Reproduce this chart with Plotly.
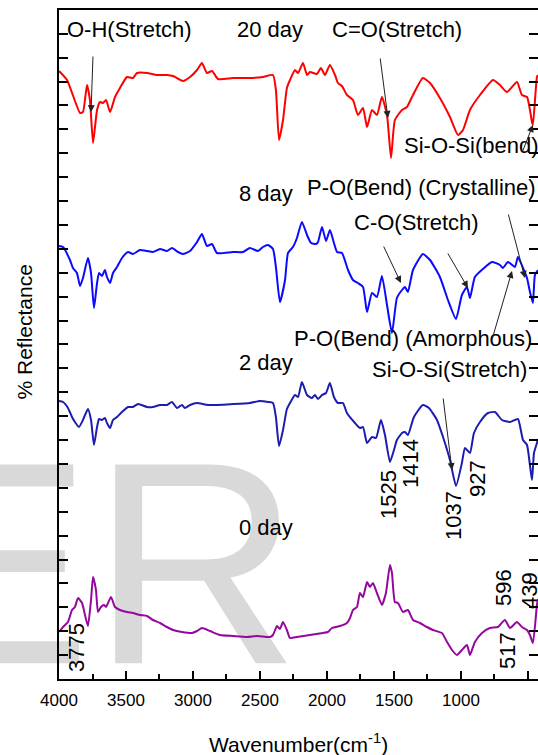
import plotly.graph_objects as go

# ---------------- data ----------------
wn_20day = [4000, 3940, 3843, 3821, 3791, 3769, 3746, 3716, 3694, 3672, 3649, 3619, 3582, 3545, 3493,
            3448, 3418, 3343, 3269, 3194, 3149, 3075, 3022, 2970, 2933, 2896, 2858, 2813, 2701, 2575,
            2478, 2403, 2381, 2358, 2328, 2299, 2276, 2239, 2216, 2179, 2149, 2127, 2075, 2045, 2015,
            1978, 1940, 1918, 1888, 1851, 1806, 1769, 1731, 1701, 1664, 1627, 1590, 1552, 1522, 1493,
            1440, 1403, 1358, 1284, 1231, 1157, 1082, 1022, 985, 933, 858, 761, 709, 657, 582, 545,
            507, 470, 463, 433, 425]
refl_20day = [608, 599, 566, 567, 594, 579, 536, 569, 577, 576, 579, 567, 582, 591, 602,
              601, 606, 606, 604, 604, 603, 598, 602, 609, 616, 606, 608, 600, 601, 601,
              602, 604, 589, 539, 559, 591, 599, 609, 606, 616, 604, 607, 605, 611, 604,
              614, 604, 596, 593, 584, 579, 564, 571, 552, 569, 564, 582, 564, 521, 559,
              569, 572, 584, 601, 596, 581, 562, 544, 549, 569, 584, 599, 594, 587, 597, 584,
              582, 557, 554, 602, 604]

wn_8day = [4000, 3970, 3918, 3896, 3866, 3843, 3821, 3784, 3761, 3739, 3716, 3701, 3679, 3657, 3642,
           3619, 3597, 3567, 3530, 3485, 3448, 3396, 3343, 3299, 3246, 3194, 3157, 3112, 3075, 3022,
           2970, 2933, 2896, 2858, 2821, 2701, 2627, 2575, 2515, 2478, 2440, 2403, 2381, 2351, 2313,
           2291, 2254, 2224, 2187, 2149, 2119, 2082, 2067, 2037, 2007, 1978, 1948, 1925, 1888, 1843,
           1806, 1769, 1731, 1701, 1664, 1627, 1590, 1552, 1515, 1478, 1440, 1418, 1396, 1358, 1284,
           1231, 1157, 1097, 1037, 993, 955, 933, 896, 836, 769, 709, 687, 649, 597, 575, 537, 507,
           485, 463, 448, 425]
refl_8day = [433, 432, 419, 411, 406, 393, 401, 421, 406, 371, 396, 406, 403, 409, 402,
             396, 406, 412, 421, 427, 425, 429, 428, 427, 430, 428, 431, 427, 425, 428,
             437, 445, 433, 435, 426, 427, 427, 431, 428, 432, 434, 430, 412, 377, 399,
             426, 432, 441, 457, 444, 436, 435, 437, 452, 438, 449, 436, 427, 426, 409,
             399, 396, 392, 367, 386, 382, 403, 374, 346, 381, 389, 392, 387, 409, 425,
             419, 402, 379, 360, 384, 392, 381, 402, 410, 417, 414, 411, 417, 412, 422, 411, 401,
             387, 376, 404, 409]

wn_2day = [4000, 3970, 3933, 3903, 3881, 3851, 3821, 3784, 3761, 3739, 3716, 3701, 3679, 3657, 3642,
           3619, 3597, 3567, 3530, 3485, 3448, 3410, 3343, 3299, 3246, 3194, 3157, 3119, 3082, 3060,
           3022, 2970, 2888, 2701, 2575, 2500, 2440, 2403, 2381, 2358, 2328, 2299, 2276, 2239, 2216,
           2187, 2149, 2112, 2090, 2067, 2037, 2007, 1978, 1948, 1918, 1881, 1851, 1791, 1754, 1731,
           1701, 1664, 1634, 1597, 1567, 1530, 1500, 1478, 1440, 1418, 1396, 1351, 1284, 1239, 1179,
           1134, 1082, 1037, 993, 970, 933, 903, 858, 799, 746, 694, 634, 575, 537, 507, 470, 455,
           433, 425]
refl_2day = [278, 277, 271, 262, 257, 252, 259, 270, 259, 234, 252, 260, 259, 261, 256,
             251, 259, 262, 267, 272, 272, 275, 272, 272, 274, 274, 277, 271, 274, 271,
             274, 276, 274, 275, 276, 278, 277, 276, 262, 233, 249, 270, 276, 284, 282,
             297, 284, 281, 284, 280, 284, 286, 296, 282, 276, 276, 266, 256, 251, 252,
             236, 242, 241, 259, 244, 217, 229, 239, 246, 247, 244, 262, 274, 271, 259,
             242, 219, 193, 216, 231, 226, 246, 257, 266, 267, 259, 257, 260, 239, 234, 199, 226,
             236, 240]

wn_0day = [4000, 3970, 3933, 3903, 3881, 3858, 3828, 3806, 3784, 3761, 3746, 3724, 3709, 3687, 3664,
           3649, 3612, 3582, 3545, 3493, 3448, 3396, 3343, 3299, 3246, 3194, 3149, 3082, 3007, 2970,
           2933, 2873, 2799, 2701, 2597, 2522, 2425, 2403, 2373, 2351, 2328, 2299, 2276, 2224, 2127,
           2030, 1993, 1963, 1903, 1851, 1828, 1806, 1776, 1754, 1731, 1701, 1679, 1657, 1627, 1590,
           1560, 1530, 1515, 1493, 1470, 1433, 1396, 1358, 1306, 1254, 1209, 1142, 1104, 1067, 1030,
           993, 955, 933, 896, 843, 784, 724, 672, 634, 582, 545, 507, 485, 463, 433, 425]
refl_0day = [47, 52, 57, 69, 72, 81, 76, 64, 53, 79, 102, 89, 67, 72, 74,
             72, 82, 72, 69, 67, 66, 64, 63, 59, 56, 52, 49, 47, 46, 48,
             51, 48, 44, 43, 42, 43, 42, 44, 53, 50, 57, 49, 41, 42, 44,
             46, 47, 51, 53, 56, 61, 69, 72, 86, 82, 97, 92, 96, 86, 74,
             86, 114, 106, 77, 76, 67, 69, 59, 56, 52, 49, 46, 37, 29, 24,
             29, 34, 24, 37, 46, 51, 52, 59, 51, 57, 52, 49, 44, 36, 74, 80]

series_names = ["20 day", "8 day", "2 day", "0 day"]
series_colors = ["#FF0000", "#0A0AFF", "#1C1CB0", "#94089E"]

x_ticks = [4000, 3500, 3000, 2500, 2000, 1500, 1000, 500]

# text labels: (text, wavenumber, y, xanchor, size, angle)
labels = [
    ("O-H(Stretch)", 3474, 650, "center", 22, 0),
    ("20 day", 2425, 650, "center", 22, 0),
    ("C=O(Stretch)", 1474, 650, "center", 22, 0),
    ("Si-O-Si(bend)", 1440, 534, "left", 22, 0),
    ("8 day", 2672, 486, "left", 22, 0),
    ("P-O(Bend) (Crystalline)", 2164, 492, "left", 22, 0),
    ("C-O(Stretch)", 1813, 457, "left", 22, 0),
    ("P-O(Bend) (Amorphous)", 2261, 341, "left", 22, 0),
    ("2 day", 2672, 317, "left", 22, 0),
    ("Si-O-Si(Stretch)", 1679, 310, "left", 22, 0),
    ("0 day", 2672, 152, "left", 22, 0),
    ("1525", 1545, 185, "center", 22, -90),
    ("1414", 1381, 216, "center", 22, -90),
    ("1037", 1060, 164, "center", 22, -90),
    ("927", 881, 201, "center", 22, -90),
    ("596", 687, 92, "center", 22, -90),
    ("439", 493, 89, "center", 22, -90),
    ("517", 657, 29, "center", 22, -90),
    ("3775", 3873, 31, "center", 22, -90),
]

# arrows: (tail wn, tail y, tip wn, tip y)
arrows = [
    (3746, 624, 3761, 567),
    (1604, 622, 1545, 561),
    (545, 526, 463, 554),
    (649, 466, 522, 401),
    (1582, 434, 1448, 396),
    (1104, 427, 948, 391),
    (769, 339, 619, 408),
    (1134, 282, 1067, 209),
]

FONT = "Liberation Sans, Arial, sans-serif"

fig = go.Figure()

# watermark behind the curves
fig.add_trace(go.Scatter(x=[3698], y=[88], mode="text", text=["ER"],
                         textfont=dict(size=289, color="#D9D9D9", family=FONT),
                         textposition="middle center", cliponaxis=False,
                         hoverinfo="skip", showlegend=False))

for name, wn, refl, col in zip(series_names,
                               [wn_20day, wn_8day, wn_2day, wn_0day],
                               [refl_20day, refl_8day, refl_2day, refl_0day],
                               series_colors):
    fig.add_trace(go.Scatter(x=wn, y=refl, mode="lines", name=name,
                             line=dict(color=col, width=2, shape="spline", smoothing=0.5),
                             showlegend=False))

# dummy trace for right-side tick axis
fig.add_trace(go.Scatter(x=[None], y=[None], yaxis="y2", showlegend=False, hoverinfo="skip"))

annos = []
for txt, xw, yv, xa, sz, ang in labels:
    annos.append(dict(text=txt, x=xw, y=yv, xref="x", yref="y", showarrow=False,
                      xanchor=xa, yanchor="middle", textangle=ang,
                      font=dict(size=sz, color="black", family=FONT)))
for tx, ty, hx, hy in arrows:
    annos.append(dict(text="", x=hx, y=hy, ax=tx, ay=ty, xref="x", yref="y",
                      axref="x", ayref="y", showarrow=True, arrowhead=2, arrowsize=1.4,
                      arrowwidth=1, arrowcolor="#222222", standoff=0, startstandoff=0))

annos.append(dict(text="% Reflectance", x=0, y=0.5, xref="paper", yref="paper",
                  xanchor="center", yanchor="middle", xshift=-35, yshift=12, textangle=-90,
                  showarrow=False, font=dict(size=21, color="black", family=FONT)))
annos.append(dict(text="Wavenumber(cm<sup>-1</sup>)", x=0.5, y=0, xref="paper", yref="paper",
                  xanchor="center", yanchor="middle", yshift=-64,
                  showarrow=False, font=dict(size=21, color="black", family=FONT)))

fig.update_layout(
    width=538, height=755,
    margin=dict(l=59, r=0, t=10, b=76),
    paper_bgcolor="white", plot_bgcolor="white",
    font=dict(family=FONT, color="black"),
    annotations=annos,
    xaxis=dict(range=[4000, 425], tickvals=x_ticks, ticktext=[str(v) for v in x_ticks],
               ticks="inside", ticklen=8, tickwidth=1.5, tickcolor="black",
               ticklabelstandoff=5,
               minor=dict(dtick=250, tick0=0, ticks="inside", ticklen=5, tickwidth=1.5,
                          tickcolor="black", showgrid=False),
               showline=True, linecolor="black", linewidth=1.5, mirror=True,
               showgrid=False, zeroline=False, tickfont=dict(size=17, family=FONT)),
    yaxis=dict(range=[0, 669], tick0=0, dtick=23.9, ticks="inside", ticklen=9, tickwidth=1.5,
               tickcolor="black", showticklabels=False, showline=True, linecolor="black",
               linewidth=1.5, mirror=False, showgrid=False, zeroline=False),
    yaxis2=dict(range=[0, 669], tick0=0, dtick=23.9, ticks="inside", ticklen=9, tickwidth=1.5,
                tickcolor="black", showticklabels=False, showline=False, overlaying="y",
                side="right", showgrid=False, zeroline=False),
)

fig.write_html("out.html")
